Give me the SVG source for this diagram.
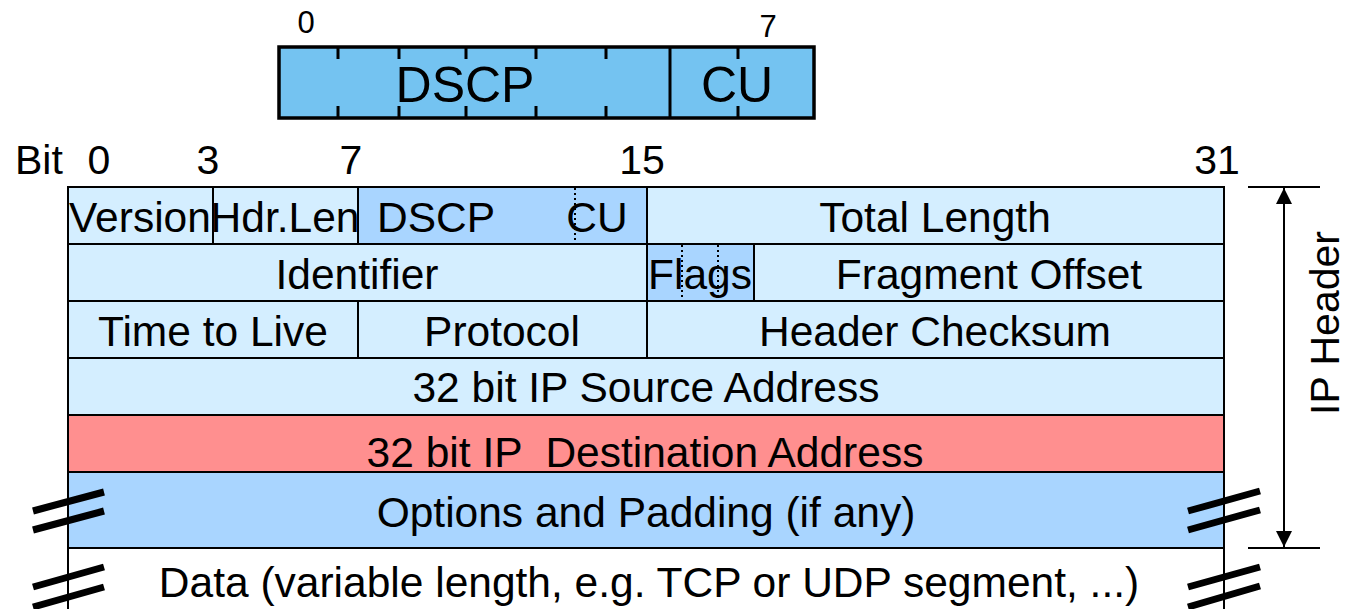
<svg xmlns="http://www.w3.org/2000/svg" width="1345" height="609" viewBox="0 0 1345 609">
  <style>
    text { font-family: "Liberation Sans", Arial, sans-serif; fill: #000; }
    .lbl { font-size: 42.5px; text-anchor: middle; }
    .bit { font-size: 41px; text-anchor: middle; }
    .sm { font-size: 31px; text-anchor: middle; }
    .big { font-size: 50px; text-anchor: middle; }
    .cell { stroke: #000; stroke-width: 2; }
    .light { fill: #d4eeff; }
    .mid { fill: #a9d5ff; }
    .red { fill: #ff8f8f; }
    .dot { stroke: #000; stroke-width: 2; stroke-dasharray: 2 3; fill: none; }
    .brk { stroke: #000; stroke-width: 7; fill: none; }
    .line { stroke: #000; stroke-width: 2; fill: none; }
  </style>
  <defs>
    <marker id="arr" viewBox="0 0 10 10" refX="10" refY="5" markerWidth="16" markerHeight="16" markerUnits="userSpaceOnUse" orient="auto">
      <path d="M0,0 L10,5 L0,10 Z" fill="#000"/>
    </marker>
  </defs>

  <!-- DiffServ byte detail -->
  <g id="dsfield">
    <text class="sm" x="306" y="33">0</text>
    <text class="sm" x="768" y="37">7</text>
    <rect x="279" y="47" width="535" height="71" fill="#74c3f1" stroke="#000" stroke-width="3.5"/>
    <path d="M338,47v12 M399,47v12 M466,47v12 M536,47v12 M606,47v12 M738,47v12 M338,118v-12 M399,118v-12 M466,118v-12 M536,118v-12 M606,118v-12 M738,118v-12" stroke="#000" stroke-width="3"/>
    <line x1="670" y1="47" x2="670" y2="118" stroke="#000" stroke-width="3"/>
    <text class="big" x="465" y="102">DSCP</text>
    <text class="big" x="737" y="102">CU</text>
  </g>

  <!-- bit positions -->
  <g id="bits">
    <text x="15" y="174" style="font-size:41px">Bit</text>
    <text class="bit" x="99" y="174">0</text>
    <text class="bit" x="208" y="174">3</text>
    <text class="bit" x="351" y="174">7</text>
    <text class="bit" x="642" y="174">15</text>
    <text class="bit" x="1217" y="174">31</text>
  </g>

  <!-- row 1 -->
  <g id="version"><rect class="cell light" x="68" y="187" width="145" height="57"/><text class="lbl" x="140" y="232">Version</text></g>
  <g id="hdrlen"><rect class="cell light" x="213" y="187" width="145" height="57"/><text class="lbl" x="285" y="232">Hdr.Len</text></g>
  <g id="dscp"><rect class="cell mid" x="358" y="187" width="289" height="57"/><text class="lbl" x="436" y="232">DSCP</text><line class="dot" x1="575" y1="188" x2="575" y2="243"/><text class="lbl" x="597" y="232">CU</text></g>
  <g id="totallength"><rect class="cell light" x="647" y="187" width="577" height="57"/><text class="lbl" x="935" y="232">Total Length</text></g>

  <!-- row 2 -->
  <g id="identifier"><rect class="cell light" x="68" y="244" width="579" height="57"/><text class="lbl" x="357" y="289">Identifier</text></g>
  <g id="flags"><rect class="cell mid" x="647" y="244" width="107" height="57"/><line class="dot" x1="682" y1="245" x2="682" y2="300"/><line class="dot" x1="718" y1="245" x2="718" y2="300"/><text class="lbl" x="700" y="289">Flags</text></g>
  <g id="fragoffset"><rect class="cell light" x="754" y="244" width="470" height="57"/><text class="lbl" x="989" y="289">Fragment Offset</text></g>

  <!-- row 3 -->
  <g id="ttl"><rect class="cell light" x="68" y="301" width="290" height="57"/><text class="lbl" x="213" y="346">Time to Live</text></g>
  <g id="protocol"><rect class="cell light" x="358" y="301" width="289" height="57"/><text class="lbl" x="502" y="346">Protocol</text></g>
  <g id="checksum"><rect class="cell light" x="647" y="301" width="577" height="57"/><text class="lbl" x="935" y="346">Header Checksum</text></g>

  <!-- rows 4-6 -->
  <g id="srcaddr"><rect class="cell light" x="68" y="358" width="1156" height="57"/><text class="lbl" x="646" y="402">32 bit IP Source Address</text></g>
  <g id="dstaddr"><rect class="cell red" x="68" y="415" width="1156" height="57"/><text class="lbl" x="645" y="467" xml:space="preserve">32 bit IP  Destination Address</text></g>
  <g id="options"><rect class="cell mid" x="68" y="472" width="1156" height="76"/><text class="lbl" x="646" y="527">Options and Padding (if any)</text></g>

  <!-- payload -->
  <g id="data">
    <line class="line" x1="68" y1="548" x2="68" y2="609"/>
    <line class="line" x1="1224" y1="548" x2="1224" y2="609"/>
    <text class="lbl" x="649" y="597">Data (variable length, e.g. TCP or UDP segment, ...)</text>
  </g>

  <!-- break marks -->
  <g id="breaks">
    <path class="brk" d="M33,511 L104,492 M33,530 L104,511 M33,587 L104,567 M33,607 L104,587"/>
    <path class="brk" d="M1188,511 L1260,491 M1188,530 L1260,510 M1188,587 L1260,567 M1188,607 L1260,586"/>
  </g>

  <!-- header extent -->
  <g id="connectors">
    <line class="line" x1="1248" y1="187" x2="1320" y2="187"/>
    <line class="line" x1="1248" y1="548" x2="1320" y2="548"/>
    <line class="line" x1="1284" y1="368" x2="1284" y2="188" marker-end="url(#arr)"/>
    <line class="line" x1="1284" y1="368" x2="1284" y2="547" marker-end="url(#arr)"/>
  </g>
  <g id="ipheader">
    <text class="lbl" transform="translate(1339,323) rotate(-90)" x="0" y="0" style="font-size:41px">IP Header</text>
  </g>
</svg>
